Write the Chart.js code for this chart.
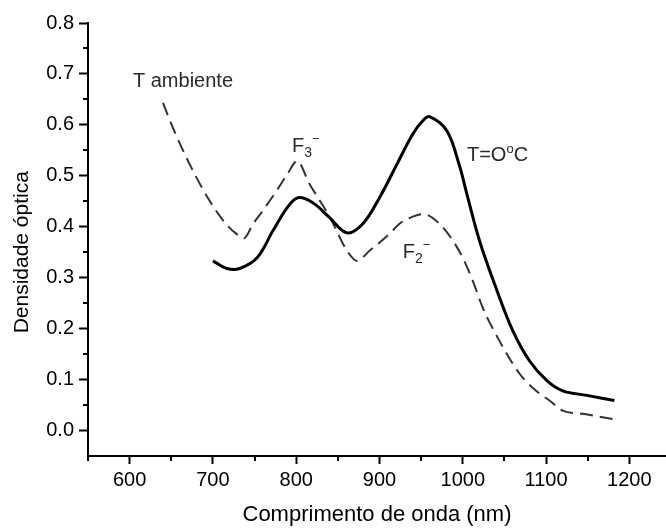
<!DOCTYPE html>
<html>
<head>
<meta charset="utf-8">
<script src="https://cdn.jsdelivr.net/npm/chart.js@4/dist/chart.umd.min.js"></script>
<style>
  html, body { margin: 0; padding: 0; background: #fff; }
  #wrap { width: 666px; height: 530px; }
</style>
</head>
<body>
<div id="wrap"><canvas id="chart" width="666" height="530"></canvas></div>
<script>
// curva a T = 0 °C (linha cheia)
const coldX = [700, 717, 732, 753, 772, 789, 802, 820, 840, 861, 880, 900, 921, 940, 952, 960, 981, 996, 1004, 1020, 1041, 1060, 1080, 1101, 1120, 1149, 1182];
const coldY = [0.333, 0.318, 0.318, 0.339, 0.392, 0.437, 0.457, 0.447, 0.418, 0.388, 0.406, 0.457, 0.523, 0.582, 0.608, 0.616, 0.588, 0.52, 0.47, 0.373, 0.275, 0.196, 0.137, 0.098, 0.078, 0.069, 0.059];

// curva a temperatura ambiente (tracejada)
const ambX = [640, 652, 672, 696, 716, 729, 737, 748, 760, 777, 790, 801, 816, 840, 861, 873, 888, 912, 924, 940, 952, 972, 988, 1000, 1012, 1024, 1044, 1068, 1088, 1104, 1120, 1144, 1182];
const ambY = [0.643, 0.594, 0.523, 0.451, 0.405, 0.385, 0.377, 0.405, 0.432, 0.472, 0.505, 0.529, 0.484, 0.42, 0.353, 0.333, 0.353, 0.386, 0.406, 0.42, 0.425, 0.406, 0.373, 0.339, 0.294, 0.241, 0.176, 0.112, 0.078, 0.059, 0.039, 0.033, 0.022];

const xTicks = [600, 700, 800, 900, 1000, 1100, 1200];
const xMinor = [550, 650, 750, 850, 950, 1050, 1150];
const yTicks = [0.0, 0.1, 0.2, 0.3, 0.4, 0.5, 0.6, 0.7, 0.8];
const yMinor = [0.05, 0.15, 0.25, 0.35, 0.45, 0.55, 0.65, 0.75];
const yTitle = 'Densidade óptica';

// rótulos no gráfico (ancorados em coordenadas de dados)
const notes = [
  { x: 604, y: 0.686, parts: [{ t: 'T ambiente' }] },
  { x: 795, y: 0.557, parts: [{ t: 'F' }, { t: '3', sub: true }, { t: '−', sup: true }] },
  { x: 1005, y: 0.539, parts: [{ t: 'T=O' }, { t: 'o', sup: true }, { t: 'C' }] },
  { x: 928, y: 0.349, parts: [{ t: 'F' }, { t: '2', sub: true }, { t: '−', sup: true }] }
];

const FONT = "'Liberation Sans', Arial, sans-serif";

const extras = {
  id: 'extras',
  afterDraw(chart) {
    const ctx = chart.ctx;
    const xs = chart.scales.x, ys = chart.scales.y;
    ctx.save();
    ctx.strokeStyle = '#000';
    ctx.lineWidth = 2;
    // minor ticks
    xMinor.forEach(v => {
      const px = Math.round(xs.getPixelForValue(v));
      ctx.beginPath();
      ctx.moveTo(px, xs.top);
      ctx.lineTo(px, xs.top + 5);
      ctx.stroke();
    });
    yMinor.forEach(v => {
      const py = Math.round(ys.getPixelForValue(v));
      ctx.beginPath();
      ctx.moveTo(ys.right, py);
      ctx.lineTo(ys.right - 5, py);
      ctx.stroke();
    });
    // y axis title, a bit below the centre like in the original
    ctx.fillStyle = '#000';
    ctx.font = '21px ' + FONT;
    ctx.textAlign = 'center';
    ctx.textBaseline = 'middle';
    ctx.translate(22, ys.getPixelForValue(0.35));
    ctx.rotate(-Math.PI / 2);
    ctx.fillText(yTitle, 0, 0);
    ctx.setTransform(1, 0, 0, 1, 0, 0);
    // labels
    ctx.fillStyle = '#2a2a2a';
    ctx.textBaseline = 'middle';
    ctx.textAlign = 'left';
    notes.forEach(n => {
      let px = xs.getPixelForValue(n.x);
      const py = ys.getPixelForValue(n.y);
      n.parts.forEach(p => {
        let size = 20, dy = 0;
        if (p.sub) { size = 14; dy = 6; }
        if (p.sup) { size = 13; dy = -7; }
        ctx.font = size + 'px ' + FONT;
        ctx.fillText(p.t, px, py + dy);
        px += ctx.measureText(p.t).width;
      });
    });
    ctx.restore();
  }
};

new Chart(document.getElementById('chart'), {
  type: 'line',
  data: {
    datasets: [
      {
        label: 'T=0°C',
        data: coldX.map((x, i) => ({ x, y: coldY[i] })),
        borderColor: '#000',
        borderWidth: 3,
        pointRadius: 0,
        tension: 0.35,
        fill: false
      },
      {
        label: 'T ambiente',
        data: ambX.map((x, i) => ({ x, y: ambY[i] })),
        borderColor: '#333',
        borderWidth: 2,
        borderDash: [13, 7],
        pointRadius: 0,
        cubicInterpolationMode: 'monotone',
        fill: false
      }
    ]
  },
  options: {
    responsive: false,
    animation: false,
    layout: { padding: { top: 23, right: 0, bottom: 0, left: 0 } },
    plugins: {
      legend: { display: false },
      tooltip: { enabled: false }
    },
    scales: {
      x: {
        type: 'linear',
        min: 550,
        max: 1244,
        afterBuildTicks: s => { s.ticks = xTicks.map(v => ({ value: v })); },
        afterFit: s => { s.height = 74; },
        grid: { drawOnChartArea: false, drawTicks: true, tickLength: 8, tickColor: '#000', tickWidth: 2 },
        border: { display: true, color: '#000', width: 2 },
        ticks: { color: '#000', font: { family: FONT, size: 20 }, padding: 4, maxRotation: 0, callback: v => String(v) },
        title: { display: true, text: 'Comprimento de onda (nm)', color: '#000', font: { family: FONT, size: 22 }, padding: { top: 0, bottom: 2 } }
      },
      y: {
        type: 'linear',
        min: -0.05,
        max: 0.8,
        afterBuildTicks: s => { s.ticks = yTicks.map(v => ({ value: v })); },
        afterFit: s => { s.width = 88; },
        grid: { drawOnChartArea: false, drawTicks: true, tickLength: 9, tickColor: '#000', tickWidth: 2 },
        border: { display: true, color: '#000', width: 2 },
        ticks: { color: '#000', font: { family: FONT, size: 20 }, padding: 5, callback: v => v.toFixed(1) }
      }
    }
  },
  plugins: [extras]
});
</script>
</body>
</html>
